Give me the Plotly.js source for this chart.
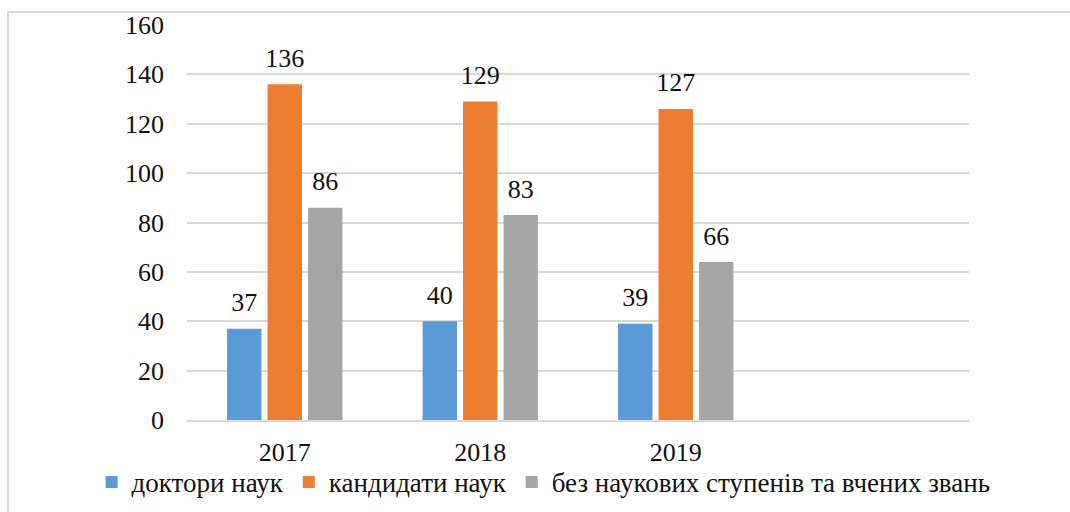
<!DOCTYPE html>
<html>
<head>
<meta charset="utf-8">
<script src="https://cdn.plot.ly/plotly-3.0.1.min.js"></script>
<style>
  html, body { margin: 0; padding: 0; background: #fff; }
  #wrap { position: relative; width: 1070px; height: 512px; overflow: hidden; }
  #chart { width: 1070px; height: 512px; }
  #frame { position: absolute; left: 7px; top: 11px; width: 2000px; height: 2000px;
           border-left: 2px solid #d9d9d9; border-top: 2px solid #d9d9d9; pointer-events: none; }
</style>
</head>
<body>
<div id="wrap"><div id="chart"></div><div id="frame"></div></div>
<script>
// Data
const categories = ['2017', '2018', '2019'];
const allSlots = ['2017', '2018', '2019', ' '];
const seriesNames = ['доктори наук', 'кандидати наук', 'без наукових ступенів та вчених звань'];
const doctors = [37, 40, 39];
const candidates = [136, 129, 126];
const noDegree = [86, 83, 64];
const doctorsLabels = ['37', '40', '39'];
const candidatesLabels = ['136', '129', '127'];
const noDegreeLabels = ['86', '83', '66'];
const yTicks = [0, 20, 40, 60, 80, 100, 120, 140, 160];

const colors = ['#5B9BD5', '#ED7D31', '#A5A5A5'];
const FONT = 'Liberation Serif';
const seriesValues = [doctors, candidates, noDegree];
const seriesLabels = [doctorsLabels, candidatesLabels, noDegreeLabels];

const traces = [];
seriesValues.forEach((vals, i) => {
  traces.push({
    type: 'bar', name: seriesNames[i], x: categories, y: vals,
    offsetgroup: String(i), alignmentgroup: 'a',
    marker: { color: colors[i], line: { width: 0 } },
    hoverinfo: 'skip'
  });
});
seriesValues.forEach((vals, i) => {
  traces.push({
    type: 'scatter', mode: 'markers+text', x: categories, y: vals,
    offsetgroup: String(i), alignmentgroup: 'a',
    text: seriesLabels[i], textposition: 'top center',
    textfont: { family: FONT, size: 26, color: '#111' },
    marker: { size: 16, opacity: 0 },
    showlegend: false, hoverinfo: 'skip', cliponaxis: false
  });
});

const layout = {
  width: 1070, height: 512,
  margin: { l: 187, r: 101, t: 25, b: 92, autoexpand: false },
  paper_bgcolor: 'rgba(0,0,0,0)', plot_bgcolor: '#fff',
  barmode: 'group', bargap: 0.379, bargroupgap: 0.15,
  scattermode: 'group', scattergap: 0.379,
  font: { family: FONT, size: 26, color: '#111' },
  xaxis: {
    type: 'category', categoryorder: 'array', categoryarray: allSlots,
    range: [-0.5, 3.5], showgrid: false, zeroline: false,
    showline: true, linecolor: '#d9d9d9', linewidth: 2,
    ticks: '', ticklabelstandoff: 8,
    tickfont: { family: FONT, size: 26, color: '#111' }
  },
  yaxis: {
    range: [0, 160], tickvals: yTicks, ticktext: yTicks.map(String),
    showgrid: true, gridcolor: '#d9d9d9', gridwidth: 2,
    zeroline: false, showline: false, ticks: '', ticklabelstandoff: 22,
    tickfont: { family: FONT, size: 26, color: '#111' }
  },
  showlegend: true,
  legend: {
    orientation: 'h',
    x: -0.122, xanchor: 'left', y: -0.158, yanchor: 'middle',
    font: { family: FONT, size: 27, color: '#111' },
    itemwidth: 30, traceorder: 'normal', bgcolor: 'rgba(0,0,0,0)'
  }
};

Plotly.newPlot('chart', traces, layout, { staticPlot: true, displayModeBar: false });
</script>
</body>
</html>
